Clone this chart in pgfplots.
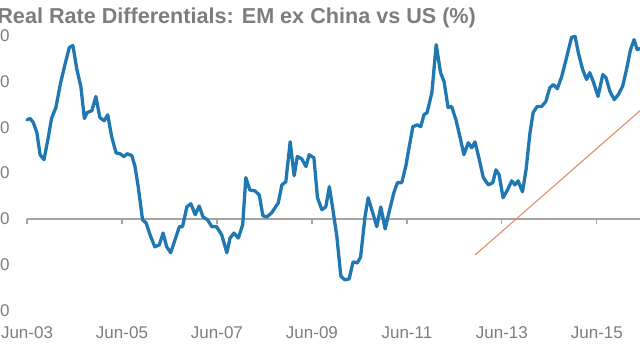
\documentclass[border=0pt]{standalone}
\usepackage{pgfplots}
\pgfplotsset{compat=1.18}
\usepackage{fontspec}
\setmainfont{Liberation Sans}
\definecolor{lineblue}{RGB}{31,120,178}
\definecolor{trendorange}{RGB}{226,142,108}
\definecolor{txtgray}{RGB}{125,125,125}
\definecolor{axgray}{RGB}{165,165,165}
\begin{document}
\begin{tikzpicture}
\begin{axis}[
  scale only axis,
  width=306.5pt, height=137.5pt,
  xmin=0, xmax=154.9,
  ymin=-2, ymax=4,
  clip=false,
  axis line style={draw=none},
  tick style={draw=none},
  xtick={0,24,48,72,96,120,144},
  xticklabels={Jun-03,Jun-05,Jun-07,Jun-09,Jun-11,Jun-13,Jun-15},
  ytick={-2,-1,0,1,2,3,4},
  yticklabels={-2.0,-1.0,0.0,1.0,2.0,3.0,4.0},
  xticklabel style={font=\fontsize{8.5pt}{10pt}\selectfont, text=txtgray, anchor=north, inner sep=0pt, yshift=-8pt},
  yticklabel style={font=\fontsize{8.5pt}{10pt}\selectfont, text=txtgray, anchor=east, inner sep=0pt, xshift=-8.5pt},
]
% zero reference line with downward ticks
\addplot[axgray, line width=0.75pt, forget plot] coordinates {(0,0) (154.9,0)};
\addplot[ycomb, axgray, line width=0.6pt, no marks, forget plot] coordinates {(0,-0.11) (24,-0.11) (48,-0.11) (72,-0.11) (96,-0.11) (120,-0.11) (144,-0.11)};
% trend line
\addplot[trendorange, line width=0.55pt] coordinates {(113.2,-0.79) (154.9,2.36)};
% series
\addplot[lineblue, line width=1.65pt, line join=round, line cap=round] table {
m v
0.0 2.16
0.8 2.19
1.6 2.10
2.5 1.88
3.3 1.40
4.3 1.29
5.4 1.79
6.2 2.19
7.3 2.43
8.5 2.97
9.6 3.37
10.7 3.74
11.6 3.78
12.6 3.26
13.6 2.89
14.5 2.19
15.2 2.32
16.4 2.36
17.4 2.67
18.4 2.21
19.5 2.14
20.4 2.27
21.4 1.79
22.5 1.44
23.5 1.42
24.5 1.36
25.3 1.42
26.5 1.38
27.3 1.14
28.1 0.70
29.2 -0.02
30.1 -0.09
31.1 -0.35
32.3 -0.61
33.4 -0.57
34.4 -0.31
35.3 -0.61
36.3 -0.74
37.4 -0.46
38.5 -0.17
39.3 -0.17
40.4 0.26
41.4 0.33
42.5 0.09
43.5 0.28
44.5 0.04
45.6 -0.02
46.7 -0.17
47.9 -0.17
49.2 -0.35
50.5 -0.74
51.3 -0.42
52.3 -0.31
53.4 -0.42
54.5 -0.13
55.3 0.90
56.3 0.63
57.6 0.61
58.7 0.52
59.6 0.07
60.6 0.04
61.8 0.13
63.5 0.35
64.4 0.74
65.4 0.81
66.5 1.68
67.5 0.94
68.3 1.36
69.4 1.31
70.5 1.14
71.3 1.40
72.5 1.33
73.4 0.46
74.5 0.20
75.5 0.26
76.4 0.70
77.2 0.26
78.3 -0.39
79.3 -1.25
80.3 -1.33
81.4 -1.31
82.4 -0.94
83.5 -0.96
84.3 -0.83
85.4 0.04
86.2 0.46
87.3 0.15
88.4 -0.17
89.4 0.26
90.5 -0.22
91.5 0.15
92.7 0.57
93.6 0.79
94.7 0.79
95.8 1.18
96.3 1.44
97.5 2.01
98.6 2.05
99.5 2.01
100.3 2.27
101.1 2.32
102.3 2.75
103.4 3.80
104.5 3.19
105.4 2.99
106.4 2.43
107.3 2.45
108.4 2.16
109.4 1.79
110.4 1.40
111.5 1.66
112.4 1.55
113.2 1.68
114.3 1.29
115.3 0.90
116.6 0.74
117.7 0.79
118.5 1.07
119.3 0.96
120.3 0.46
121.4 0.63
122.5 0.83
123.3 0.74
124.1 0.83
125.2 0.59
126.1 1.07
127.1 1.88
127.9 2.32
128.9 2.45
130.0 2.45
131.1 2.56
132.1 2.86
133.0 2.93
134.0 2.84
135.1 3.10
136.4 3.54
137.6 3.96
138.5 3.98
139.3 3.63
140.4 3.26
141.4 3.04
142.2 3.19
143.1 2.99
144.3 2.67
145.5 3.15
146.3 3.08
147.3 2.78
148.4 2.60
149.4 2.71
150.5 2.89
151.5 3.26
152.5 3.69
153.4 3.91
154.2 3.69
154.9 3.72
};
\end{axis}
\node[anchor=base west, inner sep=0pt, text=txtgray, font=\bfseries\fontsize{10.8pt}{13pt}\selectfont] at (-15pt,143.6pt) {Real Rate Differentials: EM ex China vs US (\%)};
\pgfresetboundingbox
\useasboundingbox (-13.5pt,-24.75pt) rectangle (306.5pt,155.25pt);
\end{tikzpicture}
\end{document}
